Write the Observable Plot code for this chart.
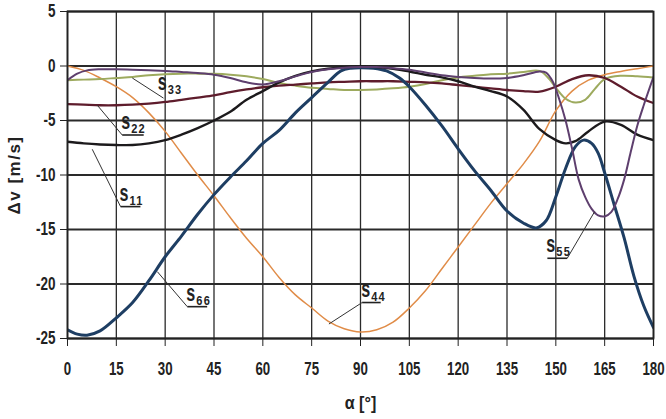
<!DOCTYPE html>
<html><head><meta charset="utf-8">
<script src="https://cdn.jsdelivr.net/npm/d3@7"></script>
<script src="https://cdn.jsdelivr.net/npm/@observablehq/plot@0.6"></script>
<style>
body{margin:0;background:#fff;}
#chart svg{display:block;}
</style>
</head><body><div id="chart"></div>
<script>
// ---- data ----
const xTicks = [0,15,30,45,60,75,90,105,120,135,150,165,180];
const yTicks = [-25,-20,-15,-10,-5,0,5];

const a11 = [0,5,10,15,20,25,30,35,40,45,50,55,60,65,70,75,80,85,90,95,100,105,110,115,120,125,130,135,140,145,150,153,156,160,165,170,175,180];
const s11 = [-6.95,-7.1,-7.2,-7.25,-7.25,-7.1,-6.8,-6.3,-5.7,-5.0,-4.2,-3.1,-2.3,-1.5,-0.9,-0.5,-0.25,-0.1,-0.05,-0.1,-0.25,-0.5,-0.8,-1.05,-1.4,-1.9,-2.3,-2.8,-4.0,-5.8,-6.8,-7.1,-6.9,-6.0,-5.1,-5.4,-6.3,-6.8];

const a22 = [0,5,10,15,20,25,30,35,40,45,50,55,60,65,70,75,80,85,90,95,100,105,110,115,120,125,130,135,140,145,150,155,160,165,170,175,180];
const s22 = [-3.5,-3.55,-3.6,-3.6,-3.55,-3.45,-3.3,-3.1,-2.9,-2.7,-2.4,-2.15,-1.95,-1.8,-1.7,-1.6,-1.5,-1.45,-1.4,-1.4,-1.4,-1.45,-1.5,-1.6,-1.75,-1.9,-2.05,-2.2,-2.3,-2.35,-1.9,-1.2,-0.85,-1.1,-1.9,-2.8,-3.4];

const a33 = [0,5,10,15,20,25,30,35,40,45,50,55,60,65,70,75,80,85,90,95,100,105,110,115,120,125,130,135,140,145,148,150,153,156,159,162,165,170,175,180];
const s33 = [-1.3,-1.25,-1.2,-1.1,-1.0,-0.85,-0.75,-0.7,-0.7,-0.72,-0.8,-0.95,-1.2,-1.55,-1.8,-2.0,-2.1,-2.2,-2.2,-2.15,-2.05,-1.9,-1.65,-1.3,-1.05,-0.9,-0.75,-0.7,-0.55,-0.45,-1.2,-2.0,-3.0,-3.35,-3.1,-2.1,-1.2,-0.9,-0.95,-1.05];

const a44 = [0,5,10,15,20,25,30,35,40,45,50,55,60,65,70,75,80,85,90,95,100,105,110,115,120,125,130,135,140,145,150,155,160,165,170,175,180];
const s44 = [0,-0.4,-1.1,-1.9,-2.9,-4.3,-6.0,-8.0,-10.0,-11.9,-13.9,-15.8,-17.5,-19.4,-21.0,-22.2,-23.4,-24.1,-24.4,-24.2,-23.5,-22.2,-20.6,-18.6,-16.6,-14.6,-12.6,-10.8,-9.0,-6.9,-4.1,-2.3,-1.3,-0.8,-0.5,-0.25,0];

const a55 = [0,3,6,10,15,20,25,30,35,40,45,50,55,60,65,70,75,80,85,90,95,100,105,110,115,120,125,130,135,140,145,147,149,151,153,155,157,159,161,163,165,167,169,171,173,175,177,180];
const s55 = [-1.3,-0.7,-0.4,-0.3,-0.3,-0.35,-0.4,-0.45,-0.55,-0.65,-0.8,-1.1,-1.5,-1.7,-1.4,-0.95,-0.55,-0.3,-0.15,-0.1,-0.1,-0.2,-0.35,-0.6,-0.85,-1.0,-1.1,-1.15,-1.1,-0.85,-0.5,-0.6,-1.4,-3.0,-5.0,-7.6,-10.4,-12.0,-13.1,-13.7,-13.8,-13.4,-12.2,-10.4,-7.9,-5.5,-3.6,-1.0];

const a66 = [0,3,6,10,15,20,25,30,35,40,45,50,55,60,65,70,75,80,84,87,90,94,98,102,105,110,115,120,125,130,135,140,144,147,150,153,156,158.5,161,163,165,168,171,174,177,180];
const s66 = [-24.2,-24.6,-24.7,-24.3,-23.1,-21.7,-19.7,-17.5,-15.6,-13.6,-11.8,-10.2,-8.7,-7.1,-5.9,-4.3,-2.9,-1.5,-0.45,-0.2,-0.15,-0.2,-0.45,-1.1,-1.9,-3.6,-5.5,-7.6,-9.6,-11.4,-13.3,-14.4,-14.85,-14.2,-12.0,-9.4,-7.4,-6.8,-7.1,-8.0,-9.8,-12.8,-15.8,-19.3,-22.0,-24.0];

// annotation labels: leader start (on curve), leader end, underline span, text anchor
const labNames = ["s11","s22","s33","s44","s55","s66"];
const labSubs  = ["11","22","33","44","55","66"];
const leadX1 = [7.6, 9.1, 19.9, 80.3, 161.9, 27.6];
const leadY1 = [-7.64, -3.58, -1.1, -23.67, -13.37, -18.87];
const leadX2 = [16.3, 16.8, 29.5, 90.5, 153.5, 36.8];
const leadY2 = [-12.9, -6.33, -2.95, -21.7, -17.64, -22.08];
const ulineX1 = [16.3, 16.8, null, 90.5, 147.4, 36.8];
const ulineX2 = [22.4, 23.4, null, 96.2, 153.5, 42.9];
const textX   = [16.3, 16.8, 28.0, 90.5, 147.4, 36.8];
const textY   = [-12.9, -6.33, -2.75, -21.7, -17.64, -22.08];

// ---- build tables ----
const seriesList = [
  {key:"s44", a:a44, v:s44},
  {key:"s33", a:a33, v:s33},
  {key:"s22", a:a22, v:s22},
  {key:"s66", a:a66, v:s66},
  {key:"s11", a:a11, v:s11},
  {key:"s55", a:a55, v:s55}
];
const style = {
  s11:{stroke:"#1c1a1c", w:2.4},
  s22:{stroke:"#5e1c2c", w:2.3},
  s33:{stroke:"#9daa5e", w:2.0},
  s44:{stroke:"#e08c48", w:1.5},
  s55:{stroke:"#5e3f6e", w:2.0},
  s66:{stroke:"#1e3e63", w:3.0}
};
const labels = labNames.map((n,i)=>({name:n, sub:labSubs[i], x1:leadX1[i], y1:leadY1[i], x2:leadX2[i], y2:leadY2[i], u1:ulineX1[i], u2:ulineX2[i], tx:textX[i], ty:textY[i]}));
const underlined = labels.filter(d=>d.u1!=null);

const FONT = "'Liberation Sans',Arial,sans-serif";
const fmt = d => String(d);

const lineMarks = seriesList.map(s => Plot.line(s.a.map((x,i)=>({angle:x, value:s.v[i]})), {
  x:"angle", y:"value", stroke: style[s.key].stroke, strokeWidth: style[s.key].w, curve:"catmull-rom", clip:true
}));

const chart = Plot.plot({
  width:666, height:419,
  marginLeft:67, marginRight:13, marginTop:11, marginBottom:81,
  style:{fontFamily:FONT, fontWeight:"bold", color:"#222", background:"#fff"},
  x:{domain:[0,180]},
  y:{domain:[-25,5]},
  marks:[
    Plot.gridX(xTicks, {stroke:"#2a2a2a", strokeOpacity:1, strokeWidth:1.3}),
    Plot.gridY(yTicks, {stroke:"#2a2a2a", strokeOpacity:1, strokeWidth:1.8}),
    ...lineMarks,
    Plot.frame({stroke:"#222", strokeWidth:1.8}),
    Plot.axisX({ticks:xTicks, tickSize:8, tickPadding:15, tickFormat:fmt, fontSize:19, stroke:"#222",
      label:"α [°]", labelAnchor:"center", labelArrow:"none", labelOffset:70}),
    Plot.axisY({ticks:yTicks, tickSize:7, tickPadding:5, tickFormat:fmt, fontSize:18, stroke:"#222",
      label:"Δv [m/s]", labelAnchor:"center", labelArrow:"none", labelOffset:60}),
    Plot.link(labels, {x1:"x1", y1:"y1", x2:"x2", y2:"y2", stroke:"#333", strokeWidth:1}),
    Plot.link(underlined, {x1:"u1", y1:"ty", x2:"u2", y2:"ty", stroke:"#222", strokeWidth:1.6}),
    Plot.text(labels, {x:"tx", y:"ty", text:()=>"s", textAnchor:"start", lineAnchor:"bottom", dx:-1, dy:-6, fontSize:23, fontWeight:"bold", fill:"#222", className:"lab-s"}),
    Plot.text(labels, {x:"tx", y:"ty", text:"sub", textAnchor:"start", lineAnchor:"bottom", dx:9, dy:-2, fontSize:13, fontWeight:"bold", fill:"#222", className:"lab-sub"})
  ]
});
document.getElementById("chart").appendChild(chart);

// condense text horizontally (narrow bold face as in the reference)
function condense(selector, k) {
  d3.select(chart).selectAll(selector).each(function() {
    const t = this.getAttribute("transform") || "";
    this.setAttribute("transform", t + ` scale(${k},1)`);
  });
}
condense('g[aria-label="x-axis tick label"] text', 0.7);
condense('g[aria-label="y-axis tick label"] text', 0.75);
condense('.lab-s text', 0.7);
condense('.lab-sub text', 0.85);
condense('g[aria-label="x-axis label"] text', 0.85);
d3.select(chart).selectAll('g[aria-label="x-axis label"] text').attr("font-size", 19);
d3.select(chart).selectAll('g[aria-label="y-axis label"] text').attr("font-size", 17).style("letter-spacing", "1.5px");
d3.select(chart).selectAll('.lab-sub text').style("letter-spacing", "1.5px");
</script>
</body></html>
